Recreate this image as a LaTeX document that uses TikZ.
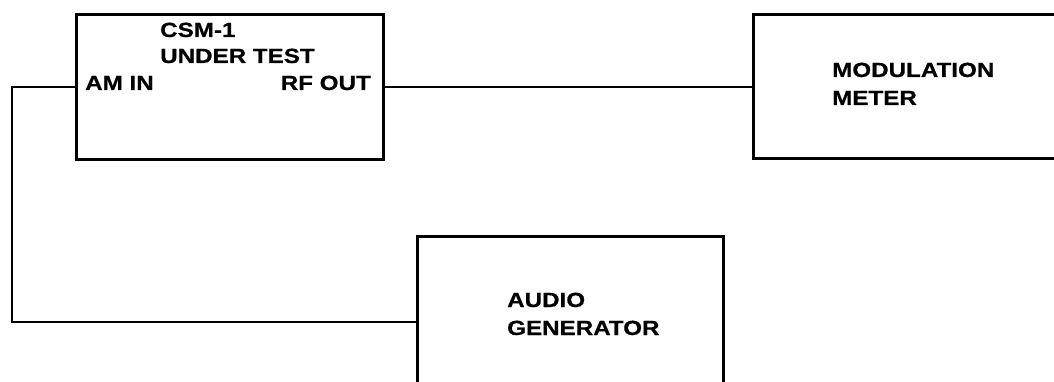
\documentclass[tikz,border=0pt]{standalone}
\usepackage{fontspec}
\setmainfont{Liberation Sans}[FakeStretch=1.18,FakeBold=0.6]
\begin{document}
\begin{tikzpicture}[x=1pt,y=-1pt,
  blockbox/.style={draw=black,line width=2.8pt,rectangle,anchor=north west,inner sep=0pt},
  wire/.style={draw=black,line width=1.8pt},
  lbl/.style={inner sep=0pt,font=\fontsize{20.5}{27}\selectfont\bfseries,text=black}]
\useasboundingbox (0,0) rectangle (1054,382);
\clip (0,0) rectangle (1054,382);
% blocks
\node[blockbox,minimum width=307pt,minimum height=145pt] (csm) at (75,13) {};
\node[blockbox,minimum width=320pt,minimum height=144pt] (mod) at (752,13) {};
\node[blockbox,minimum width=306pt,minimum height=170pt] (aud) at (416,235) {};
% labels
\node[lbl,anchor=base west] (t1) at (160,37) {CSM-1};
\node[lbl,anchor=base west] (t2) at (160,63) {UNDER TEST};
\node[lbl,anchor=base west] (t3) at (85,90) {AM IN};
\node[lbl,anchor=base east] (t4) at (371,90) {RF OUT};
\node[lbl,anchor=base west] (t5) at (832,77) {MODULATION};
\node[lbl,anchor=base west] (t6) at (832,105) {METER};
\node[lbl,anchor=base west] (t7) at (507,307) {AUDIO};
\node[lbl,anchor=base west] (t8) at (507,335) {GENERATOR};
% connection points
\coordinate (rfout) at (csm.west |- 0,87);
\coordinate (rfo) at (csm.east |- 0,87);
\coordinate (modin) at (mod.west |- 0,87);
\coordinate (audin) at (aud.west |- 0,322);
\coordinate (c1) at (12,87);
\coordinate (c2) at (12,322);
% wires
\draw[wire] (rfo) -- (modin);
\draw[wire] (rfout) -- (c1) -- (c2) -- (audin);
\end{tikzpicture}
\end{document}
